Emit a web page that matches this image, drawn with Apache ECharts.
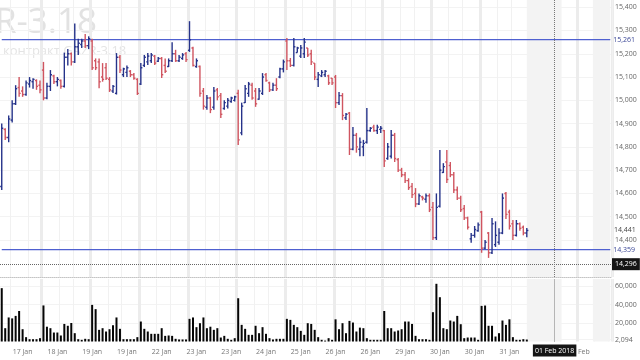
<!DOCTYPE html>
<html><head><meta charset="utf-8">
<script src="https://cdn.jsdelivr.net/npm/echarts@6/dist/echarts.min.js"></script>
<style>html,body{margin:0;padding:0;background:#fff}#c{width:640px;height:360px}</style>
</head><body><div id="c"></div>
<script>
// ---- data ----
const dayLabels = ['17 Jan','18 Jan','19 Jan','22 Jan','23 Jan','24 Jan','25 Jan','26 Jan','29 Jan','30 Jan','31 Jan','01 Feb','02 Feb'];
const dayFirstHour = [12,10,10,10,10,10,10,10,10,10,10,10,10];
const dayBarCounts = [12,14,14,14,14,14,14,14,14,14,14,14,10];
const priceTicks = [14400,14500,14600,14700,14800,14900,15000,15100,15200,15300,15400];
const volumeTicks = [2094,20000,40000,60000];
const levelLines = [15261,14359];
const lastPrice = 14441;
const crosshairPrice = 14296;
const crosshairIndex = 159;
const crosshairLabel = '01 Feb 2018';
const watermark = 'GAZR-3.18';
const watermarkSub = 'контракт GAZR-3.18';

const open = [14630,14875,14840,14915,14985,15055,15040,15025,15070,15080,15085,15065,
15130,15010,15060,15105,15080,15085,15060,15185,15200,15165,15230,15240,15255,15235,
15255,15170,15165,15100,15140,15090,15040,15030,15185,15110,15120,15125,15110,15090,
15070,15150,15165,15170,15190,15168,15180,15150,15145,15170,15200,15170,15180,15200,
15215,15225,15145,15145,15040,14970,15010,14970,15045,15020,14965,14975,14995,15000,
15030,14860,14990,15030,15065,15040,15005,15030,15110,15075,15045,15065,15100,15135,
15255,15170,15150,15205,15190,15200,15225,15200,15160,15090,15105,15110,15105,15095,
15100,14990,15020,14925,14945,14790,14850,14790,14800,14820,14870,14885,14870,14875,
14870,14750,14760,14850,14745,14700,14680,14655,14630,14600,14555,14585,14575,14590,
14540,14410,14545,14690,14735,14720,14680,14615,14580,14535,14495,14405,14420,14440,
14520,14365,14430,14345,14380,14390,14430,14600,14520,14470,14420,14470,14455,14430];
const high = [14900,14880,14935,15000,15065,15100,15060,15085,15100,15095,15090,15085,
15165,15075,15130,15110,15100,15090,15205,15220,15205,15330,15265,15265,15285,15275,
15265,15180,15180,15160,15160,15100,15066,15203,15195,15140,15150,15130,15117,15095,
15160,15195,15203,15203,15195,15186,15186,15180,15180,15250,15217,15195,15203,15208,
15340,15230,15180,15150,15053,15023,15015,15057,15053,15031,15000,15010,15015,15020,
15045,14990,15066,15079,15075,15053,15053,15117,15117,15080,15075,15095,15140,15175,
15268,15182,15268,15230,15238,15268,15225,15217,15160,15122,15130,15130,15110,15096,
15109,15036,15031,14946,14950,14885,14860,14840,14830,14967,14885,14895,14895,14890,
14873,14817,14873,14860,14752,14710,14692,14665,14645,14623,14600,14590,14600,14600,
14563,14600,14787,14730,14787,14735,14692,14630,14590,14550,14500,14430,14460,14475,
14525,14400,14434,14495,14480,14450,14600,14606,14530,14486,14486,14475,14462,14451];
const low = [14615,14830,14820,14905,14980,15015,15015,15020,15055,15050,15045,15030,
15000,15005,15040,15070,15060,15050,15055,15150,15150,15160,15195,15225,15225,15220,
15130,15130,15052,15080,15087,15036,15032,15025,15117,15100,15100,15100,15088,15023,
15066,15143,15152,15160,15152,15165,15096,15117,15143,15165,15165,15165,15174,15165,
15208,15145,15140,15015,14960,14960,14945,14960,15000,14924,14960,14965,14990,14995,
14808,14850,14988,15015,15002,14972,15002,15023,15080,15036,15040,15040,15095,15120,
15130,15143,15145,15205,15182,15182,15186,15152,15087,15057,15100,15100,15066,15066,
14967,14980,14915,14915,14765,14785,14775,14760,14760,14815,14865,14865,14855,14860,
14714,14745,14750,14735,14692,14670,14645,14615,14580,14541,14550,14570,14560,14520,
14400,14400,14540,14688,14645,14670,14602,14572,14520,14486,14445,14388,14410,14435,
14345,14360,14323,14340,14370,14380,14425,14490,14445,14400,14415,14440,14420,14412];
const close = [14880,14840,14920,14985,15050,15030,15025,15075,15085,15090,15060,15045,
15010,15060,15110,15080,15090,15060,15185,15200,15165,15230,15245,15255,15235,15265,
15140,15140,15080,15090,15095,15045,15060,15185,15130,15135,15140,15110,15095,15030,
15140,15185,15190,15195,15160,15180,15110,15125,15170,15200,15170,15185,15195,15175,
15260,15150,15170,15030,14975,15010,14960,15040,15015,14940,14990,15000,15010,15015,
14830,14975,15050,15070,15010,14985,15040,15100,15085,15045,15065,15050,15135,15165,
15170,15150,15230,15225,15225,15250,15195,15165,15100,15110,15120,15125,15075,15075,
14990,15020,14935,14940,14790,14850,14800,14820,14815,14870,14880,14870,14885,14880,
14740,14800,14850,14750,14700,14680,14655,14625,14595,14555,14590,14580,14590,14530,
14410,14540,14700,14715,14660,14680,14615,14580,14530,14495,14455,14420,14445,14465,
14365,14390,14345,14470,14420,14430,14580,14510,14460,14420,14470,14450,14430,14441];
const volume = [57700,14400,26000,25000,27700,33000,13300,4700,2500,2500,2500,3600,
39000,16000,14400,9700,9700,6500,19000,17000,20000,9000,2500,1800,2900,2500,
39600,35000,12600,14400,10800,13300,17600,26000,13700,2500,2500,2500,2500,4700,
21600,13700,10800,8300,8300,8300,14400,6100,6500,6100,2900,2200,2200,2200,
24500,26000,15500,19800,26000,14400,16000,12600,14400,4300,6100,2900,1800,3600,
46800,18000,13700,7200,7200,17000,9000,15500,8300,3600,2200,2900,2900,2900,
24500,23400,18000,15500,11500,7200,19800,19000,12600,4700,1800,1000,3600,1800,
24000,13300,19800,9000,22300,20500,10800,15000,14400,3600,1800,1800,1800,1800,
33000,14400,14400,10800,11900,13300,21600,21600,19000,6100,2500,2500,2500,1800,
31700,62400,47900,14400,13300,22700,21600,27700,18700,3600,4300,4300,4300,1800,
38500,38900,17000,17000,5400,9000,22700,18000,24000,4700,1800,1800,2500,2094];

// ---- derived structures ----
const categories = [];
const dayStarts = new Set();
const sessionLines = new Set();
dayLabels.forEach((d, k) => {
  const start = categories.length;
  if (k > 0) dayStarts.add(start);
  for (let j = 0; j < dayBarCounts[k]; j++) categories.push(d + ' ' + (dayFirstHour[k] + j) + ':00');
  if (k === 0) { sessionLines.add(3); sessionLines.add(8); }
  else { sessionLines.add(start + 5); sessionLines.add(start + 9); }
});
const ohlcData = open.map((o, i) => [i, o, close[i], low[i], high[i]]);
const fmt = v => Number(v).toLocaleString('en-US');

const upColor = '#26338a';
const downColor = '#d05560';
const levelColor = '#4f60d0';
const FONT = 'Open Sans';

const chart = echarts.init(document.getElementById('c'), null, {renderer: 'canvas'});

function catAxis(grid, kind, extra) {
  const base = {
    type: 'category', gridIndex: grid, data: categories, boundaryGap: true,
    axisLine: {show: false}, axisTick: {show: false}, axisLabel: {show: false},
    splitLine: kind === 'day'
      ? {show: true, interval: (i) => dayStarts.has(i), lineStyle: {color: '#ececec', width: 3}}
      : {show: true, interval: (i) => sessionLines.has(i), lineStyle: {color: '#f1f1f1', width: 1}}
  };
  return Object.assign(base, extra || {});
}

function carrier(xi, yi, data, extra) {
  return Object.assign({
    type: 'line', xAxisIndex: xi, yAxisIndex: yi, data: data, showSymbol: false, silent: true,
    lineStyle: {opacity: 0}, itemStyle: {opacity: 0}, z: 1
  }, extra);
}

// horizontal level lines as line series across all categories
const levelSeries = levelLines.map(v => ({
  type: 'line', xAxisIndex: 0, yAxisIndex: 0, showSymbol: false, z: 3,
  data: categories.map(() => v),
  color: levelColor,
  lineStyle: {color: levelColor, width: 1.2},
  itemStyle: {color: levelColor},
  emphasis: {disabled: true},
  endLabel: {show: true, formatter: () => fmt(v), color: '#3a4696', fontSize: 7, fontFamily: FONT, distance: 3}
}));

const option = {
  animation: false,
  backgroundColor: '#ffffff',
  textStyle: {fontFamily: FONT},
  graphic: [
    {type: 'text', right: 543, top: 6, z: -10, style: {text: watermark, font: '35px "Open Sans"', fill: '#e2e2e2'}},
    {type: 'text', left: 3, top: 45, z: -10, style: {text: watermarkSub, font: '13px "Open Sans"', fill: '#e4e4e4'}}
  ],
  grid: [
    {left: -2, right: 28, top: 0, bottom: 83},
    {left: -2, right: 28, top: 279, bottom: 18.5}
  ],
  xAxis: [
    catAxis(0, 'day', {axisLine: {show: true, lineStyle: {color: '#c4c4c4', type: 'dotted', width: 1}}}),
    catAxis(0, 'session', {position: 'top'}),
    catAxis(1, 'day', {axisLabel: {show: true, interval: (i) => i % 10 === 6, formatter: v => v.slice(0, 6), fontSize: 7, color: '#777', margin: 7, fontFamily: FONT}}),
    catAxis(1, 'session', {position: 'top'})
  ],
  yAxis: [
    {type: 'value', gridIndex: 0, position: 'right', min: 14241, max: 15431, scale: true,
     axisLine: {show: false}, axisTick: {show: false, customValues: priceTicks},
     axisLabel: {customValues: priceTicks, formatter: fmt, fontSize: 7, color: '#666', margin: 3, fontFamily: FONT},
     splitLine: {show: true, lineStyle: {color: '#f3f3f3'}}},
    {type: 'value', gridIndex: 1, position: 'right', min: 0, max: 67600,
     axisLine: {show: false}, axisTick: {show: false, customValues: volumeTicks},
     axisLabel: {customValues: volumeTicks, formatter: fmt, fontSize: 7, color: '#666', margin: 3, fontFamily: FONT},
     splitLine: {show: true, lineStyle: {color: '#f3f3f3'}}}
  ],
  series: [
    carrier(0, 0, close, {
      markArea: {silent: true, itemStyle: {color: '#f3f3f3'}, data: [[{xAxis: 151}, {xAxis: 161}], [{xAxis: 170}, {xAxis: 175}]]},
      markLine: {
        silent: true, symbol: 'none', animation: false,
        data: [
          {yAxis: lastPrice, lineStyle: {color: 'rgba(0,0,0,0)', width: 1},
            label: {position: 'end', distance: 2, formatter: fmt(lastPrice), color: '#444', fontSize: 7, fontFamily: FONT}},
          {yAxis: crosshairPrice, lineStyle: {color: '#666', type: 'dotted', width: 1},
            label: {position: 'end', distance: 0, formatter: fmt(crosshairPrice), color: '#fff', backgroundColor: '#151515', padding: [3, 3, 2, 3], fontSize: 7, fontFamily: FONT}},
          {xAxis: crosshairIndex, lineStyle: {color: '#777', type: 'dotted', width: 1}, label: {show: false}}
        ]
      }
    }),
    ...levelSeries,
    {
      type: 'custom', xAxisIndex: 0, yAxisIndex: 0, data: ohlcData,
      encode: {x: 0, y: [1, 2, 3, 4]}, z: 4,
      renderItem: function (params, api) {
        const i = api.value(0);
        const o = api.coord([i, api.value(1)]);
        const c = api.coord([i, api.value(2)]);
        const l = api.coord([i, api.value(3)]);
        const h = api.coord([i, api.value(4)]);
        const t = api.size([1, 0])[0] * 0.45;
        const x = o[0];
        const col = api.value(2) >= api.value(1) ? upColor : downColor;
        return {type: 'group', children: [
          {type: 'line', shape: {x1: x, y1: h[1], x2: x, y2: l[1]}, style: {stroke: col, lineWidth: 1.4}},
          {type: 'line', shape: {x1: x - t, y1: o[1], x2: x, y2: o[1]}, style: {stroke: col, lineWidth: 1.4}},
          {type: 'line', shape: {x1: x, y1: c[1], x2: x + t, y2: c[1]}, style: {stroke: col, lineWidth: 1.4}}
        ]};
      }
    },
    {
      type: 'bar', xAxisIndex: 2, yAxisIndex: 1, data: volume, barWidth: 2,
      itemStyle: {color: '#050505'}, z: 4
    },
    carrier(2, 1, volume, {
      markArea: {silent: true, itemStyle: {color: '#f3f3f3'}, data: [[{xAxis: 151}, {xAxis: 161}], [{xAxis: 170}, {xAxis: 175}]]},
      markLine: {
        silent: true, symbol: 'none', animation: false,
        data: [
          {xAxis: crosshairIndex, lineStyle: {color: '#777', type: 'dotted', width: 1},
            label: {position: 'start', distance: 3, formatter: crosshairLabel, color: '#fff', backgroundColor: '#151515', padding: [3, 2, 2, 2], fontSize: 7, fontFamily: FONT}}
        ]
      }
    })
  ]
};
chart.setOption(option);
</script>
</body></html>
